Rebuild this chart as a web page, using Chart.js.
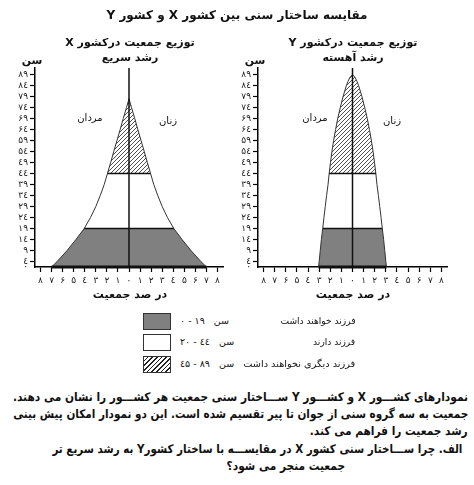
<!DOCTYPE html>
<html><head><meta charset="utf-8">
<script src="https://cdn.jsdelivr.net/npm/chart.js@4"></script>
<style>
body{margin:0;background:#fff;width:474px;height:485px;overflow:hidden;position:relative;font-family:"DejaVu Sans",sans-serif;color:#111}
.t{position:absolute;white-space:nowrap;}
.ib{display:inline-block;}
canvas{position:absolute;}
.box{position:absolute;width:26px;height:15px;border:1px solid #333;}
</style></head><body>
<canvas id="cx" width="237" height="305" style="left:0;top:0;width:237px;height:305px"></canvas>
<canvas id="cy" width="237" height="305" style="left:228px;top:0;width:237px;height:305px"></canvas>
<div id="texts"></div>
<script>
// ---- data ----
const xTicks = [-8,-7,-6,-5,-4,-3,-2,-1,0,1,2,3,4,5,6,7,8];
const yTicks = [4,9,14,19,24,29,34,39,44,49,54,59,64,69,74,79,84,89];
const bandLimits = [19, 44];
// Country X (rapid growth): half-width (% of population) at each age
const ageX   = [1.5, 4, 9, 14, 19, 24, 29, 34, 39, 44, 49, 54, 59, 64, 69, 74, 78];
const widthX = [7.0, 6.5, 5.6, 4.8, 4.05, 3.48, 3.0, 2.6, 2.24, 1.95, 1.66, 1.38, 1.09, 0.8, 0.52, 0.23, 0];
// Country Y (slow growth)
const ageY   = [1.5, 4, 9, 14, 19, 24, 29, 34, 39, 44, 49, 54, 59, 64, 69, 74, 79, 84, 86, 88, 89];
const widthY = [3.05, 3.0, 2.9, 2.8, 2.68, 2.57, 2.45, 2.33, 2.2, 2.1, 1.98, 1.85, 1.7, 1.52, 1.33, 1.1, 0.85, 0.55, 0.4, 0.2, 0];

const PD = ['۰','۱','۲','۳','٤','۵','۶','۷','۸','۹'];
function fa(n){ return String(n).split('').map(c => PD[+c] ?? c).join(''); }

// hatch pattern
function makeHatch(){
  const c = document.createElement('canvas'); c.width = 4; c.height = 4;
  const g = c.getContext('2d');
  g.strokeStyle = '#222'; g.lineWidth = 0.8;
  g.beginPath();
  g.moveTo(0,4); g.lineTo(4,0);
  g.moveTo(-1,1); g.lineTo(1,-1);
  g.moveTo(3,5); g.lineTo(5,3);
  g.stroke();
  return g.createPattern(c,'repeat');
}
const hatch = makeHatch();

function band(ages, widths, lo, hi){
  const L = [], R = [];
  for (let i = 0; i < ages.length; i++){
    if (ages[i] >= lo && ages[i] <= hi){ L.push({x:-widths[i], y:ages[i]}); R.push({x:widths[i], y:ages[i]}); }
  }
  return L.concat(R.reverse());
}
function widthAt(ages, widths, a){ return widths[ages.indexOf(a)]; }

const YMIN = 1.5, YMAX = 92;
function makeChart(id, ages, widths, yw, rpad){
  const base = {pointRadius:0, showLine:true, tension:0};
  const w0 = widths[0];
  const datasets = [
    {...base, data: band(ages, widths, YMIN, bandLimits[0]), fill:'shape', backgroundColor:'#808080', borderWidth:0, order:10},
    {...base, data: band(ages, widths, bandLimits[0], bandLimits[1]), fill:'shape', backgroundColor:'#ffffff', borderWidth:0, order:10},
    {...base, data: band(ages, widths, bandLimits[1], 200), fill:'shape', backgroundColor:hatch, borderWidth:0, order:10},
    {...base, data: band(ages, widths, YMIN, 200), fill:false, borderColor:'#333', borderWidth:1, order:2, clip:false},
  ];
  bandLimits.forEach(a => {
    const w = widthAt(ages, widths, a);
    datasets.push({...base, data:[{x:-w,y:a},{x:w,y:a}], fill:false, borderColor:'#111', borderWidth:1.5, order:1, clip:false});
  });
  datasets.push({...base, data:[{x:-w0,y:YMIN},{x:w0,y:YMIN}], fill:false, borderColor:'#111', borderWidth:3, order:1, clip:false});
  datasets.push({...base, data:[{x:0,y:YMIN},{x:0,y:YMAX}], fill:false, borderColor:'#111', borderWidth:1.5, order:0, clip:false});

  new Chart(document.getElementById(id), {
    type:'scatter',
    data:{datasets},
    options:{
      responsive:false, animation:false, devicePixelRatio:1,
      layout:{padding:{top:68, right:rpad, left:0, bottom:0}, autoPadding:false},
      plugins:{legend:{display:false}, tooltip:{enabled:false}},
      events:[],
      scales:{
        x:{type:'linear', min:-8.5, max:8.5,
           afterBuildTicks: s => { s.ticks = xTicks.map(v => ({value:v})); },
           afterFit: s => { s.height = 38; },
           ticks:{callback: v => fa(Math.abs(v)), font:{size:9, family:'DejaVu Sans'}, color:'#222', padding:3, maxRotation:0, autoSkip:false},
           grid:{drawOnChartArea:false, tickLength:5, tickColor:'#000', tickWidth:1.2},
           border:{color:'#000', width:1.5}},
        y:{type:'linear', min:YMIN, max:YMAX,
           afterBuildTicks: s => { s.ticks = [YMIN].concat(yTicks).map(v => ({value:v})); },
           afterFit: s => { s.width = yw; },
           ticks:{callback: v => v === YMIN ? '۰' : fa(v), font:{size:9, family:'DejaVu Sans'}, color:'#222', padding:2, autoSkip:false},
           grid:{drawOnChartArea:false, tickLength:5, tickWidth:1.2, tickColor: c => (c.tick && c.tick.value === YMIN) ? 'rgba(0,0,0,0)' : '#000'},
           border:{color:'#000', width:1.5}}
      }
    }
  });
}
makeChart('cx', ageX, widthX, 35, 14);
makeChart('cy', ageY, widthY, 30, 18);

// ---- texts ----
const T = document.getElementById('texts');
function txt(s, cx, cy, size, bold, dir, align, html){
  const d = document.createElement('div');
  d.className = 't';
  if (html) d.innerHTML = s; else d.textContent = s;
  d.dir = dir || 'rtl';
  d.style.fontSize = size + 'px';
  d.style.lineHeight = (size + 4) + 'px';
  d.style.top = (cy - (size + 4) / 2) + 'px';
  d.style.fontWeight = bold ? 'bold' : 'normal';
  if (!align || align === 'center'){ d.style.left = (cx - 200) + 'px'; d.style.width = '400px'; d.style.textAlign = 'center'; }
  else if (align === 'right'){ d.style.right = (474 - cx) + 'px'; d.style.textAlign = 'right'; }
  else { d.style.left = cx + 'px'; d.style.textAlign = 'left'; }
  T.appendChild(d);
  return d;
}
function fitRight(d, target){
  const w = d.getBoundingClientRect().width;
  d.style.transformOrigin = 'right center';
  d.style.transform = 'scaleX(' + (target / w) + ')';
}
txt('مقایسه ساختار سنی بین کشور X و کشور Y', 237, 15, 12, true);
txt('توزیع جمعیت درکشور X', 130, 42, 11, true);
txt('رشد سریع', 130, 57, 11, true);
txt('توزیع جمعیت درکشور Y', 353, 42, 11, true);
txt('رشد آهسته', 353, 57, 11, true);
txt('سن', 32, 60, 11, true);
txt('سن', 255, 60, 11, true);
txt('مردان', 90, 118, 10, false);
txt('زنان', 168, 121, 10, false);
txt('مردان', 315, 118, 10, false);
txt('زنان', 392, 121, 10, false);
txt('در صد جمعیت', 130, 294, 11, true);
txt('در صد جمعیت', 353, 294, 11, true);

// legend
const legendRows = [
  {top:313, fill:'#808080', a:'۰', b:'۱۹', label:'فرزند خواهند داشت', w:75},
  {top:334, fill:'#ffffff', a:'۲۰', b:'٤٤', label:'فرزند دارند', w:42},
  {top:356, fill:'repeating-linear-gradient(135deg,#fff 0 2.2px,#222 2.2px 3.3px)', a:'٤۵', b:'۸۹', label:'فرزند دیگری نخواهند داشت', w:112}
];
legendRows.forEach(r => {
  const b = document.createElement('div'); b.className = 'box';
  b.style.left = '143px'; b.style.top = r.top + 'px'; b.style.background = r.fill;
  T.appendChild(b);
  txt('<span class="ib">' + r.a + '</span> - <span class="ib">' + r.b + '</span>&nbsp;&nbsp;&nbsp;<span class="ib">سن</span>', 180, r.top + 8, 9.5, false, 'ltr', 'left', true);
  const l = txt(r.label, 355, r.top + 8, 9.5, false, 'rtl', 'right');
  fitRight(l, r.w);
});

// paragraph
const p1 = txt('نمودارهای کشـــور X و کشـــور Y ســـاختار سنی جمعیت هر کشـــور را نشان می دهند.', 468, 397, 12, true, 'rtl', 'right');
const p2 = txt('جمعیت به سه گروه سنی از جوان تا پیر تقسیم شده است. این دو نمودار امکان پیش بینی', 468, 414, 12, true, 'rtl', 'right');
const p3 = txt('رشد جمعیت را  فراهم می کند.', 468, 431, 12, true, 'rtl', 'right');
const p4 = txt('الف. چرا ســـاختار سنی کشور X در مقایســـه با ساختار کشورY به رشد سریع تر', 462, 449, 12, true, 'rtl', 'right');
const p5 = txt('جمعیت منجر می شود؟', 345, 466, 12, true, 'rtl', 'right');
const s1 = 455 / p1.getBoundingClientRect().width;
fitRight(p1, 455);
fitRight(p2, 455);
fitRight(p3, p3.getBoundingClientRect().width * s1);
fitRight(p4, 410);
fitRight(p5, p5.getBoundingClientRect().width * s1);
</script>
</body></html>
